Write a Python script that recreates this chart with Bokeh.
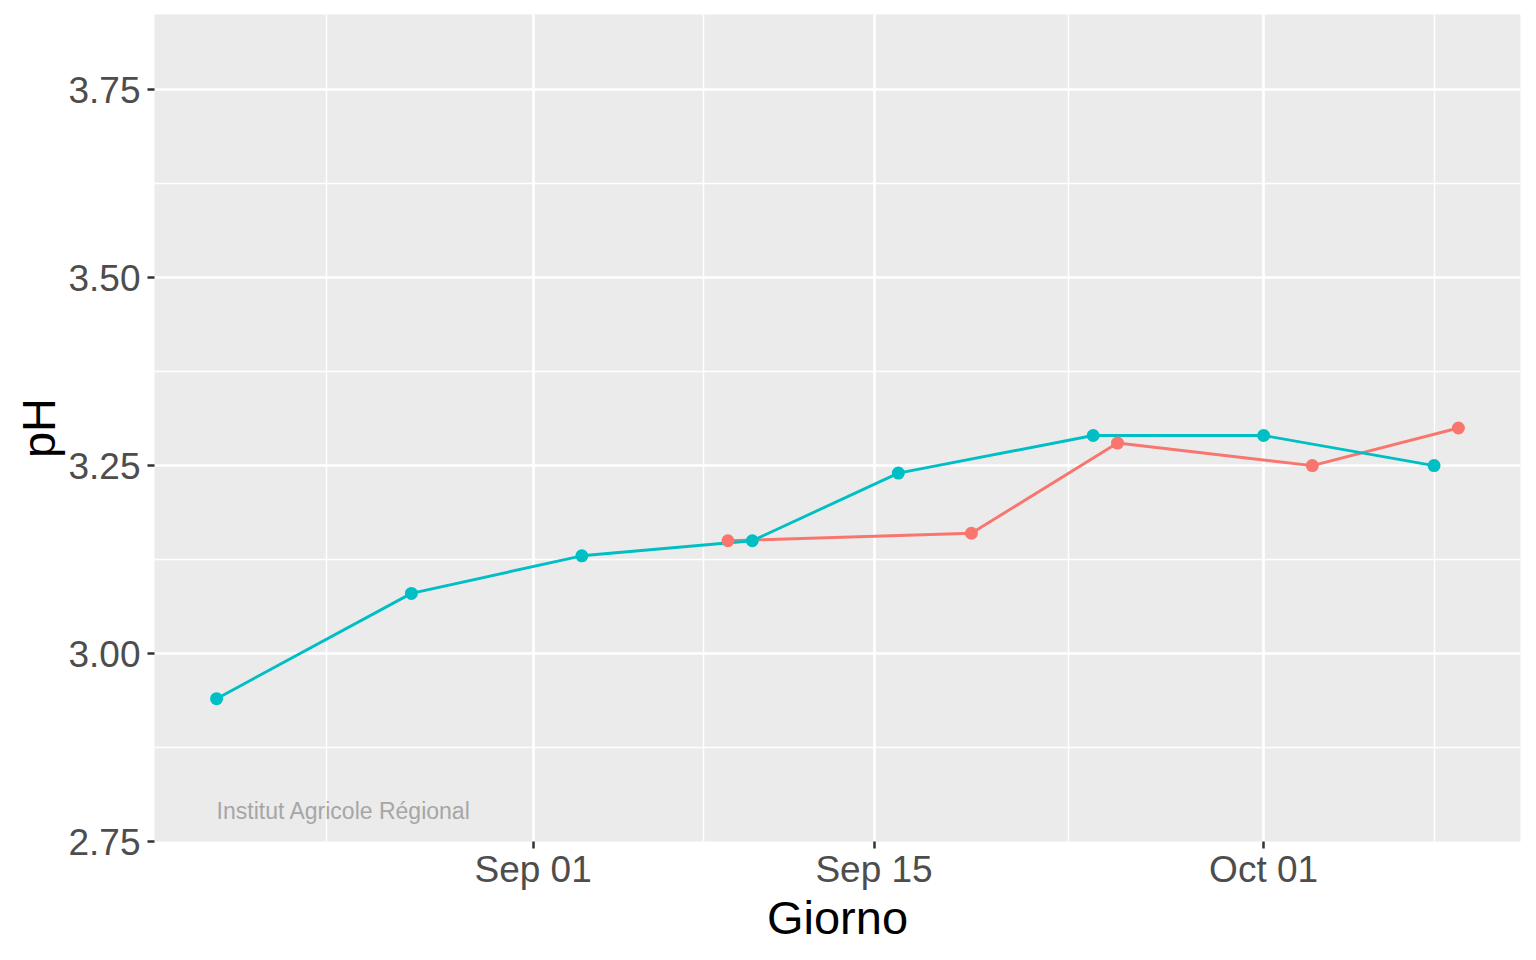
from datetime import datetime
from bokeh.plotting import figure
from bokeh.models import (Range1d, FixedTicker, DatetimeTickFormatter,
                          PrintfTickFormatter)
from bokeh.core.properties import value
from bokeh.embed import file_html
from bokeh.resources import INLINE

# ---- data ----
cyan_dates = ["2022-08-19", "2022-08-27", "2022-09-03", "2022-09-10",
              "2022-09-16", "2022-09-24", "2022-10-01", "2022-10-08"]
cyan_ph = [2.94, 3.08, 3.13, 3.15, 3.24, 3.29, 3.29, 3.25]

red_dates = ["2022-09-09", "2022-09-19", "2022-09-25", "2022-10-03", "2022-10-09"]
red_ph = [3.15, 3.16, 3.28, 3.25, 3.30]

x_tick_dates = ["2022-09-01", "2022-09-15", "2022-10-01"]
x_minor_dates = ["2022-08-23 12:00", "2022-09-08", "2022-09-23", "2022-10-08"]
y_ticks = [2.75, 3.00, 3.25, 3.50, 3.75]
y_minor = [2.875, 3.125, 3.375, 3.625]
y_limits = (2.75, 3.85)

watermark = "Institut Agricole Régional"


def parse(s):
    return datetime.fromisoformat(s)


def ms(d):
    return (d - datetime(1970, 1, 1)).total_seconds() * 1000.0


cx = [parse(d) for d in cyan_dates]
rx = [parse(d) for d in red_dates]

all_x = cx + rx
lo, hi = min(all_x), max(all_x)
pad = (hi - lo) * 0.05

FONT = "Liberation Sans"
RED = "#F8766D"
CYAN = "#00BFC4"

p = figure(frame_width=1366, frame_height=827, x_axis_type="datetime",
           output_backend="svg", toolbar_location=None,
           x_range=Range1d(lo - pad, hi + pad),
           y_range=Range1d(*y_limits),
           min_border_left=154, min_border_right=7,
           min_border_top=14, min_border_bottom=20)

p.background_fill_color = "#EBEBEB"
p.border_fill_color = "white"
p.outline_line_color = None

p.xaxis.ticker = FixedTicker(ticks=[ms(parse(d)) for d in x_tick_dates],
                             minor_ticks=[ms(parse(d)) for d in x_minor_dates])
p.xaxis.formatter = DatetimeTickFormatter(
    milliseconds="%b %d", seconds="%b %d", minsec="%b %d", minutes="%b %d",
    hourmin="%b %d", hours="%b %d", days="%b %d", months="%b %d", years="%b %d")
p.yaxis.ticker = FixedTicker(ticks=y_ticks, minor_ticks=y_minor)
p.yaxis.formatter = PrintfTickFormatter(format="%.2f")

for ax in (p.xaxis, p.yaxis):
    ax.axis_line_color = None
    ax.major_tick_line_color = "#333333"
    ax.major_tick_line_width = 2.5
    ax.major_tick_out = 7
    ax.major_tick_in = 0
    ax.minor_tick_out = 0
    ax.minor_tick_in = 0
    ax.major_label_text_font = FONT
    ax.major_label_text_font_size = "37px"
    ax.major_label_text_color = "#4D4D4D"
    ax.axis_label_text_font = FONT
    ax.axis_label_text_font_size = "47px"
    ax.axis_label_text_font_style = "normal"
    ax.axis_label_text_color = "black"

p.xaxis.axis_label = "Giorno"
p.yaxis.axis_label = "pH"
p.xaxis.major_label_standoff = 0
p.yaxis.major_label_standoff = 7
p.xaxis.axis_label_standoff = -2
p.yaxis.axis_label_standoff = 0

for g in (p.xgrid, p.ygrid):
    g.grid_line_color = "white"
    g.grid_line_width = 2.7
    g.minor_grid_line_color = "white"
    g.minor_grid_line_width = 1.4

p.line(rx, red_ph, line_color=RED, line_width=2.9)
p.line(cx, cyan_ph, line_color=CYAN, line_width=2.9)
p.scatter(rx, red_ph, size=13, fill_color=RED, line_color=None)
p.scatter(cx, cyan_ph, size=13, fill_color=CYAN, line_color=None)

p.text(x=[cx[0]], y=[2.79], text=[watermark], text_font=value(FONT),
       text_font_size="23px", text_color="#A6A6A6",
       text_align="left", text_baseline="middle")

open("out.html", "w").write(file_html(p, INLINE))
